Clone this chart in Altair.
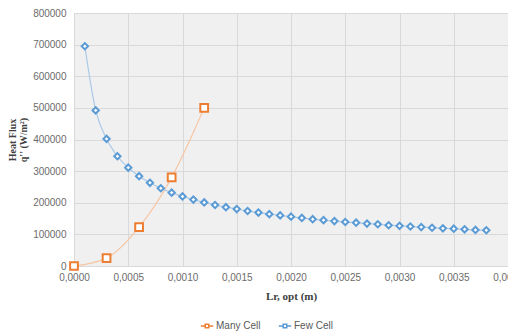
import altair as alt
import pandas as pd

# Few Cell series
few_x = [0.0001 * i for i in range(1, 39)]
few_y = [695000, 492000, 402000, 347000, 311000, 284000, 263000, 246000, 232000, 220000,
         210000, 201000, 193000, 186000, 180000, 174000, 169000, 164000, 160000, 156000,
         152000, 148000, 145000, 142000, 139000, 137000, 134000, 132000, 129000, 127000,
         125000, 123000, 121000, 119000, 118000, 116000, 114000, 113000]

# Many Cell series
many_x = [0.0, 0.0003, 0.0006, 0.0009, 0.0012]
many_y = [0, 25000, 123000, 280000, 500000]

series_names = ["Many Cell", "Few Cell"]
line_colors = ["#f7c4a0", "#a9c8e8"]
marker_colors = ["#ed7d31", "#5b9bd5"]
x_ticks = [0.0, 0.0005, 0.001, 0.0015, 0.002, 0.0025, 0.003, 0.0035, 0.004]
y_ticks = [0.0, 100000.0, 200000.0, 300000.0, 400000.0, 500000.0, 600000.0, 700000.0, 800000.0]

df = pd.concat([
    pd.DataFrame({"x": many_x, "y": many_y, "series": "Many Cell", "order": range(len(many_x))}),
    pd.DataFrame({"x": few_x, "y": few_y, "series": "Few Cell", "order": range(len(few_x))}),
])

font = "Liberation Sans"
xscale = alt.Scale(domain=[0, 0.004], nice=False, zero=False)
yscale = alt.Scale(domain=[0, 800000], nice=False, zero=False)

xaxis = alt.Axis(values=x_ticks,
                 labelExpr="replace(format(datum.value, '.4f'), '.', ',')",
                 title="Lr, opt (m)", titleFont="Liberation Serif", titleFontWeight="bold",
                 titleFontSize=11, titleColor="#404040", titlePadding=8,
                 labelFont=font, labelFontSize=10, labelColor="#6b6b6b",
                 labelFlush=False, labelOverlap=False,
                 grid=True, gridColor="#d9d9d9", domain=False, ticks=False, labelPadding=6)
yaxis = alt.Axis(values=y_ticks,
                 labelExpr="format(datum.value, 'd')",
                 title=["Heat Flux", "q'' (W/m²)"], titleFont="Liberation Serif",
                 titleFontWeight="bold", titleFontSize=10, titleLineHeight=11,
                 titleColor="#404040", titlePadding=4,
                 labelFont=font, labelFontSize=10, labelColor="#6b6b6b",
                 labelFlush=False, labelOverlap=False,
                 grid=True, gridColor="#d9d9d9", domain=False, ticks=False, labelPadding=8)

lines = alt.Chart().mark_line(interpolate="monotone", strokeWidth=1.2).encode(
    color=alt.Color("series:N", scale=alt.Scale(domain=series_names, range=line_colors), legend=None),
    detail="series:N",
    order="order:Q",
)

points = alt.Chart().mark_point(filled=False, strokeWidth=2, fill="white", fillOpacity=1).encode(
    color=alt.Color("series:N", scale=alt.Scale(domain=series_names, range=marker_colors),
                    legend=alt.Legend(title=None, orient="none", direction="horizontal",
                                      legendX=128, legendY=308,
                                      symbolType="M-1.6,0L-0.45,0M0.45,0L1.6,0M-0.45,-0.45L0.45,-0.45L0.45,0.45L-0.45,0.45Z",
                                      symbolSize=60, symbolStrokeWidth=1.5,
                                      labelFont=font, labelFontSize=10, labelColor="#595959",
                                      columnPadding=14)),
    shape=alt.Shape("series:N", scale=alt.Scale(domain=series_names, range=["square", "diamond"]), legend=None),
    size=alt.Size("series:N", scale=alt.Scale(domain=series_names, range=[60, 40]), legend=None),
)

chart = alt.layer(lines, points, data=df).encode(
    x=alt.X("x:Q", scale=xscale, axis=xaxis),
    y=alt.Y("y:Q", scale=yscale, axis=yaxis),
).resolve_scale(color="independent").properties(
    width=434, height=253,
    autosize=alt.AutoSizeParams(type="none"),
    padding={"left": 66, "top": 5, "right": 0, "bottom": 65},
).configure_view(fill="#f0f0f0", stroke=None)

chart.save("out.html", embed_options={"renderer": "svg", "actions": False})
